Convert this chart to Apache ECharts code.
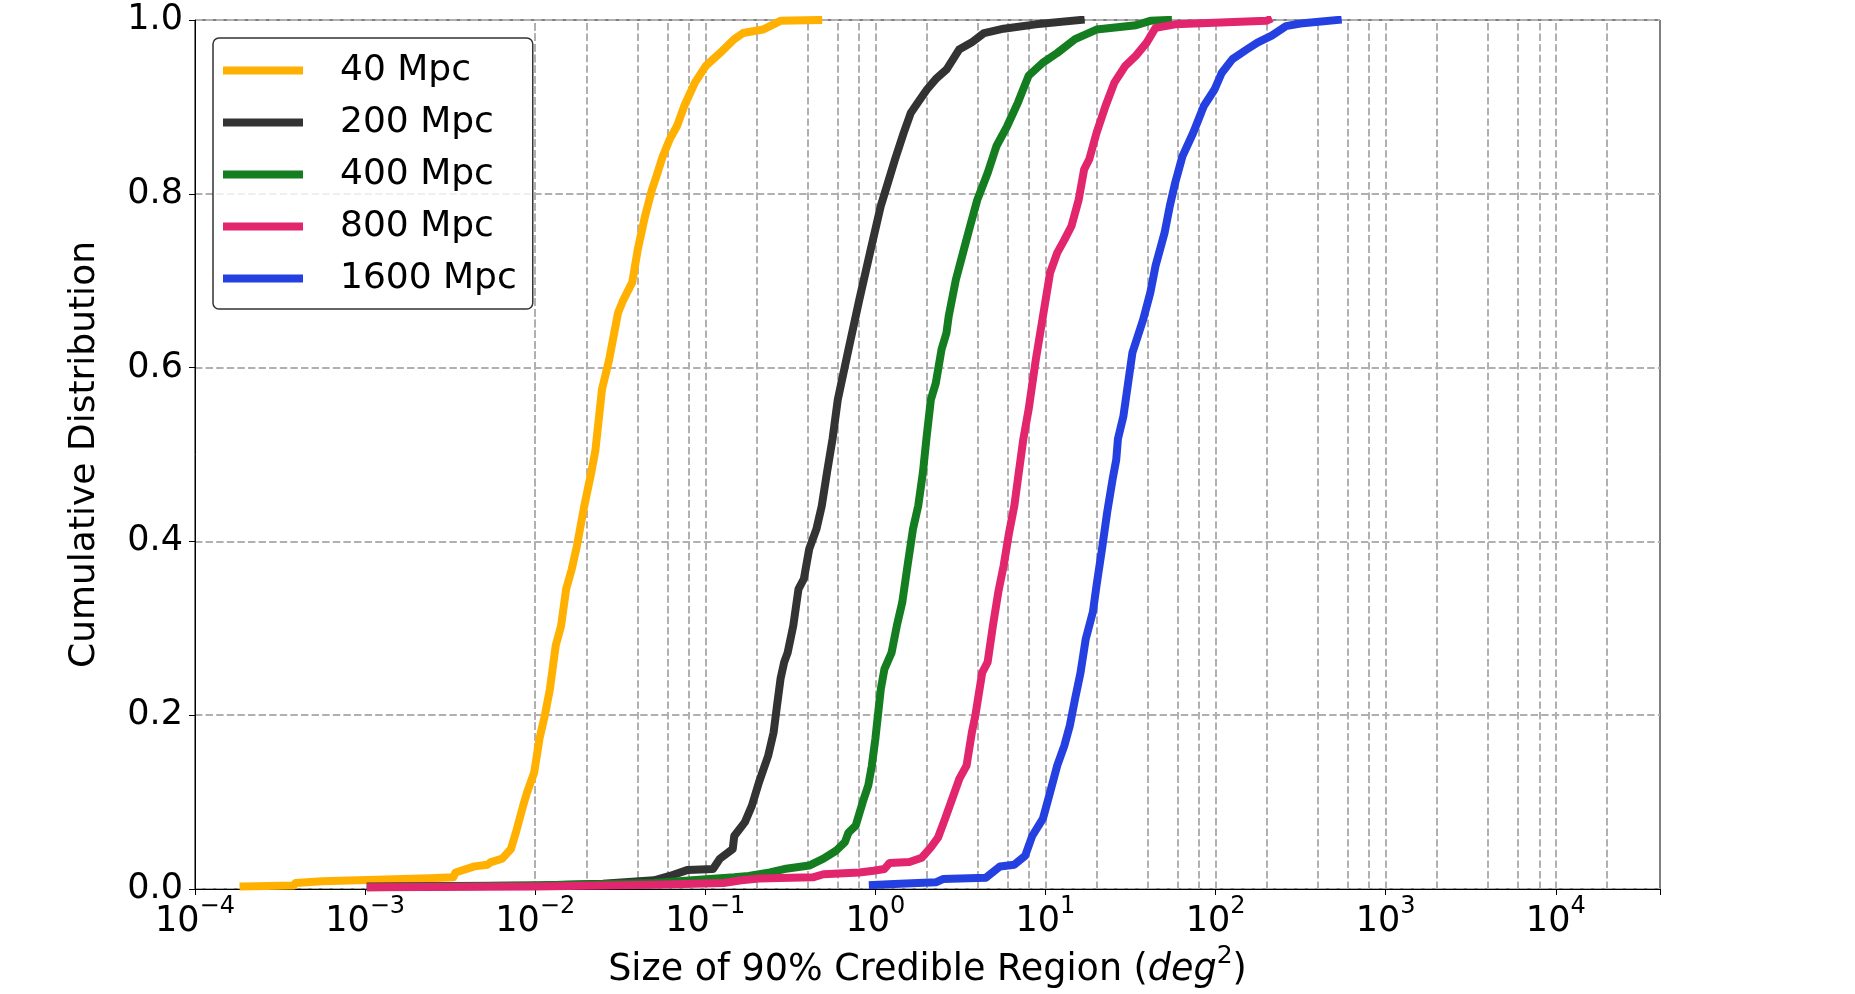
<!DOCTYPE html>
<html><head><meta charset="utf-8">
<script src="https://cdn.jsdelivr.net/npm/echarts@6/dist/echarts.min.js"></script>
<style>html,body{margin:0;padding:0;background:#fff}#c{width:1855px;height:994px}</style>
</head><body><div id="c"></div>
<script>
const seriesNames = ['40 Mpc', '200 Mpc', '400 Mpc', '800 Mpc', '1600 Mpc'];
const seriesColors = ['#FFB000', '#333333', '#147D1F', '#E1266E', '#2540E0'];

const x40 = [1.93e-4, 3.8e-4, 3.9e-4, 5.6e-4, 2.4e-3, 3.3e-3, 3.4e-3, 4.4e-3, 5.25e-3, 5.5e-3, 6.4e-3, 7.2e-3, 7.75e-3, 8.5e-3, 8.95e-3, 9.86e-3, 1.06e-2, 1.14e-2, 1.22e-2, 1.32e-2, 1.42e-2, 1.52e-2, 1.64e-2, 1.76e-2, 1.94e-2, 2.14e-2, 2.26e-2, 2.47e-2, 2.72e-2, 3.07e-2, 3.30e-2, 3.72e-2, 4.01e-2, 4.42e-2, 4.86e-2, 5.10e-2, 5.62e-2, 6.19e-2, 6.82e-2, 7.52e-2, 8.69e-2, 0.1005, 0.122, 0.148, 0.167, 0.218, 0.264, 0.277, 0.461];
const y40 = [0.003, 0.004, 0.007, 0.009, 0.0125, 0.0135, 0.019, 0.026, 0.028, 0.031, 0.035, 0.046, 0.067, 0.096, 0.111, 0.134, 0.173, 0.200, 0.230, 0.280, 0.303, 0.345, 0.368, 0.395, 0.440, 0.480, 0.505, 0.575, 0.609, 0.663, 0.678, 0.698, 0.736, 0.774, 0.805, 0.817, 0.843, 0.863, 0.878, 0.901, 0.928, 0.947, 0.962, 0.978, 0.985, 0.989, 0.997, 0.999, 1.0];

const x200 = [1.08e-3, 1.0e-2, 2.5e-2, 5.0e-2, 6.19e-2, 7.89e-2, 0.111, 0.122, 0.145, 0.148, 0.171, 0.188, 0.207, 0.234, 0.252, 0.264, 0.277, 0.291, 0.305, 0.329, 0.353, 0.380, 0.408, 0.450, 0.484, 0.520, 0.560, 0.601, 0.695, 0.804, 0.929, 1.076, 1.186, 1.306, 1.466, 1.614, 1.778, 2.009, 2.265, 2.618, 3.105, 3.673, 4.355, 5.675, 8.77, 16.1];
const y200 = [0.003, 0.004, 0.006, 0.010, 0.015, 0.022, 0.023, 0.035, 0.046, 0.061, 0.077, 0.096, 0.123, 0.153, 0.180, 0.211, 0.242, 0.261, 0.272, 0.303, 0.345, 0.357, 0.391, 0.414, 0.441, 0.480, 0.518, 0.563, 0.621, 0.678, 0.732, 0.786, 0.813, 0.840, 0.870, 0.893, 0.905, 0.920, 0.932, 0.943, 0.966, 0.974, 0.985, 0.990, 0.995, 1.0];

const x400 = [1.08e-3, 1.0e-2, 5.0e-2, 0.148, 0.180, 0.240, 0.291, 0.408, 0.495, 0.587, 0.662, 0.695, 0.766, 0.843, 0.908, 0.953, 1.0, 1.035, 1.076, 1.130, 1.245, 1.337, 1.439, 1.545, 1.663, 1.786, 1.905, 1.995, 2.118, 2.265, 2.449, 2.618, 2.698, 2.972, 3.273, 3.606, 3.972, 4.571, 5.152, 5.957, 6.887, 7.962, 9.66, 11.72, 14.93, 19.95, 34.04, 41.3, 52.5];
const y400 = [0.002, 0.004, 0.007, 0.0134, 0.015, 0.019, 0.023, 0.027, 0.035, 0.044, 0.054, 0.065, 0.073, 0.100, 0.119, 0.142, 0.173, 0.200, 0.230, 0.253, 0.272, 0.303, 0.330, 0.372, 0.414, 0.441, 0.480, 0.518, 0.563, 0.582, 0.621, 0.640, 0.659, 0.701, 0.732, 0.763, 0.793, 0.824, 0.855, 0.878, 0.905, 0.936, 0.951, 0.962, 0.978, 0.989, 0.994, 0.999, 1.0];

const x800 = [1.08e-3, 1.0e-2, 5.0e-2, 0.128, 0.163, 0.207, 0.429, 0.495, 0.804, 0.975, 1.130, 1.213, 1.585, 1.875, 2.118, 2.333, 2.570, 2.831, 3.119, 3.436, 3.690, 3.873, 4.246, 4.571, 4.909, 5.284, 5.675, 6.109, 6.561, 6.887, 7.413, 7.962, 8.77, 9.66, 10.64, 11.72, 12.91, 14.22, 15.67, 16.87, 18.11, 19.95, 22.54, 25.41, 29.38, 34.04, 39.36, 44.36, 57.94, 198.6, 204];
const y800 = [0.002, 0.003, 0.005, 0.007, 0.010, 0.012, 0.0134, 0.017, 0.019, 0.021, 0.023, 0.030, 0.031, 0.036, 0.048, 0.059, 0.081, 0.104, 0.127, 0.142, 0.180, 0.200, 0.249, 0.261, 0.303, 0.342, 0.372, 0.410, 0.441, 0.472, 0.518, 0.552, 0.609, 0.659, 0.709, 0.732, 0.747, 0.763, 0.793, 0.828, 0.840, 0.870, 0.901, 0.928, 0.947, 0.959, 0.974, 0.991, 0.995, 0.999, 1.0];

const x1600 = [0.966, 1.396, 2.265, 2.495, 4.467, 5.408, 6.561, 7.586, 8.356, 9.66, 10.64, 11.72, 12.91, 13.90, 14.93, 16.07, 17.26, 19.01, 19.95, 21.48, 23.07, 24.83, 26.06, 26.67, 28.71, 32.43, 37.50, 41.30, 44.36, 50.12, 53.83, 57.94, 63.83, 73.79, 85.31, 98.6, 108.6, 125.6, 152.4, 176.2, 213.8, 259.4, 314.8, 522.4];
const y1600 = [0.0046, 0.006, 0.0077, 0.0115, 0.013, 0.026, 0.028, 0.038, 0.061, 0.081, 0.111, 0.142, 0.165, 0.188, 0.219, 0.249, 0.288, 0.319, 0.349, 0.391, 0.434, 0.472, 0.494, 0.518, 0.544, 0.617, 0.655, 0.686, 0.717, 0.755, 0.786, 0.813, 0.843, 0.870, 0.901, 0.920, 0.939, 0.955, 0.966, 0.974, 0.982, 0.993, 0.996, 1.0];

const xTickExponents = [-4, -3, -2, -1, 0, 1, 2, 3, 4];
const yTickLabels = ['0.0', '0.2', '0.4', '0.6', '0.8', '1.0'];
const majorGridX = [1e-3, 1e-2, 1e-1, 1, 10, 100, 1000, 10000];
const minorGridX = [2e-4, 4e-4, 6e-4, 8e-4, 2e-3, 4e-3, 6e-3, 8e-3, 2e-2, 4e-2, 6e-2, 8e-2,
  0.2, 0.4, 0.6, 0.8, 2, 4, 6, 8, 20, 40, 60, 80, 200, 400, 600, 800,
  2000, 4000, 6000, 8000, 20000];

const xs = [x40, x200, x400, x800, x1600];
const ys = [y40, y200, y400, y800, y1600];

const FONT = 'DejaVu Sans';
const GRID_COLOR = '#b0b0b0';
const gridStyle = { color: GRID_COLOR, width: 2, type: [7.4, 3.2] };

function pairs(a, b) { return a.map((v, i) => [v, b[i]]); }

const chart = echarts.init(document.getElementById('c'), null, { renderer: 'canvas' });

const series = [{
  type: 'line', name: '_grid', data: [[1, 0.5]], showSymbol: false, silent: true, z: 1,
  lineStyle: { opacity: 0 },
  markLine: {
    z: 1, silent: true, symbol: ['none', 'none'], label: { show: false }, animation: false,
    lineStyle: gridStyle, emphasis: { disabled: true },
    data: majorGridX.concat(minorGridX).map(v => ({ xAxis: v }))
  }
}];
seriesNames.forEach((n, i) => {
  series.push({
    type: 'line', name: n, data: pairs(xs[i], ys[i]), showSymbol: false, smooth: false,
    color: seriesColors[i], z: 3,
    lineStyle: { color: seriesColors[i], width: 8, cap: 'square', join: 'round' },
    emphasis: { disabled: true }
  });
});

chart.setOption({
  animation: false,
  textStyle: { fontFamily: FONT },
  grid: { left: 195, right: 195, top: 20, bottom: 105, show: true, borderColor: '#000', borderWidth: 1, containLabel: false, outerBoundsMode: 'none' },
  legend: {
    data: seriesNames, orient: 'vertical', left: 213, top: 38,
    padding: [14.5, 16, 12.5, 10], itemGap: 16, itemWidth: 80, itemHeight: 8, icon: 'rect',
    backgroundColor: 'rgba(255,255,255,0.8)', borderColor: '#333', borderWidth: 1.5, borderRadius: 6,
    textStyle: { fontFamily: FONT, fontSize: 36, color: '#000', lineHeight: 36, padding: [0, 0, 0, 32] },
    selectedMode: false
  },
  xAxis: {
    type: 'log', logBase: 10, min: 1e-4, max: 41000, splitNumber: 9,
    name: '{n|Size of 90% Credible Region (}{i|deg}{s|2}{n|)}',
    nameLocation: 'middle', nameGap: 42,
    nameTextStyle: {
      rich: {
        n: { fontFamily: FONT, fontSize: 36.5, color: '#000', lineHeight: 44, verticalAlign: 'bottom' },
        i: { fontFamily: FONT, fontSize: 36.5, color: '#000', fontStyle: 'italic', lineHeight: 44, verticalAlign: 'bottom' },
        s: { fontFamily: FONT, fontSize: 25, color: '#000', lineHeight: 25, padding: [0, 0, 20, 0], verticalAlign: 'bottom' }
      }
    },
    axisLine: { show: true, lineStyle: { color: '#000', width: 1 } },
    axisTick: { show: true, length: 6, lineStyle: { color: '#000', width: 1 } },
    splitLine: { show: false },
    axisLabel: {
      margin: 6,
      formatter: function (v) {
        const e = Math.round(Math.log10(v));
        if (Math.abs(Math.log10(v) - e) > 1e-6 || xTickExponents.indexOf(e) < 0) return '';
        return '{b|10}{s|' + (e < 0 ? '\u2212' + (-e) : String(e)) + '}';
      },
      rich: {
        b: { fontFamily: FONT, fontSize: 35, color: '#000', lineHeight: 44, verticalAlign: 'bottom' },
        s: { fontFamily: FONT, fontSize: 24, color: '#000', lineHeight: 24, padding: [0, 0, 20, 0], verticalAlign: 'bottom' }
      }
    }
  },
  yAxis: {
    type: 'value', min: 0, max: 1, interval: 0.2,
    name: 'Cumulative Distribution', nameLocation: 'middle', nameGap: 92, nameRotate: 90,
    nameTextStyle: { fontFamily: FONT, fontSize: 36, color: '#000' },
    axisLine: { show: true, lineStyle: { color: '#000', width: 1 } },
    axisTick: { show: true, length: 6, lineStyle: { color: '#000', width: 1 } },
    splitLine: { show: true, lineStyle: gridStyle },
    axisLabel: {
      margin: 12, fontFamily: FONT, fontSize: 35, color: '#000',
      formatter: function (v) { return yTickLabels[Math.round(v / 0.2)]; }
    }
  },
  series: series
});
</script></body></html>
